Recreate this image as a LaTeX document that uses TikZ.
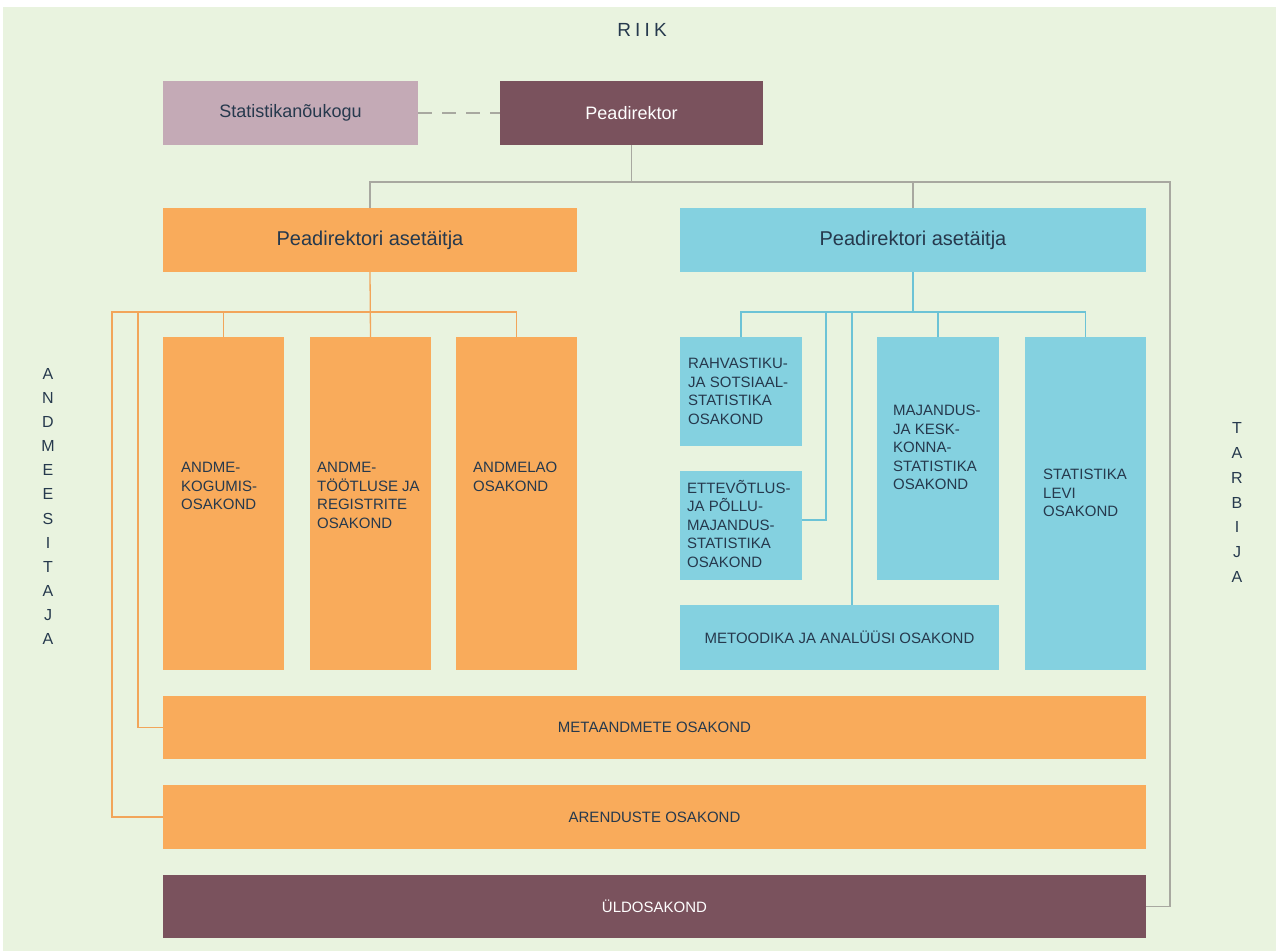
\documentclass[tikz,border=0pt]{standalone}
\usepackage{fontspec}
\setmainfont{Liberation Sans}
\newfontfamily\spacedfont[LetterSpace=22]{Liberation Sans}
\usetikzlibrary{calc}
\definecolor{bg}{HTML}{E9F3DF}
\definecolor{oran}{HTML}{F9AB5B}
\definecolor{blu}{HTML}{84D1E0}
\definecolor{maro}{HTML}{7A525D}
\definecolor{mauv}{HTML}{C4AAB6}
\definecolor{grl}{HTML}{A8A8A0}
\definecolor{orl}{HTML}{F2A55A}
\definecolor{bll}{HTML}{6CC3D6}
\definecolor{txt}{HTML}{26394D}
\tikzset{
  boxnode/.style={rectangle, inner sep=0pt, outer sep=0pt},
  obox/.style={boxnode, fill=oran},
  bbox/.style={boxnode, fill=blu},
  mbox/.style={boxnode, fill=maro},
  pbox/.style={boxnode, fill=mauv},
  boxtext/.style={inner sep=0pt, anchor=north west, align=left, text=txt,
    font=\fontsize{15}{18.5}\selectfont},
  ctext/.style={inner sep=0pt, text=txt, font=\fontsize{15}{18.5}\selectfont},
  headtext/.style={inner sep=0pt, font=\fontsize{18}{22}\selectfont},
  subheadtext/.style={inner sep=0pt, font=\fontsize{20}{24}\selectfont},
  sidetext/.style={inner sep=0pt, align=center, text=txt},
  gline/.style={draw=grl, line width=1.3pt},
  oline/.style={draw=orl, line width=1.3pt},
  bline/.style={draw=bll, line width=1.3pt},
}
\begin{document}
\begin{tikzpicture}[x=1pt, y=-1pt]
\useasboundingbox (0,0) rectangle (1276,951);
\fill[bg] (3,7) rectangle (1276,951);

% title
\node[inner sep=0pt, text=txt, font=\fontsize{19}{22}\spacedfont] (riik) at (642,30) {RIIK};

% top boxes
\node[pbox, minimum width=255, minimum height=64] (stat) at (290.5,113) {};
\node[mbox, minimum width=263, minimum height=64] (pea) at (631.5,113) {};
\node[obox, minimum width=414, minimum height=64] (aso) at (370,240) {};
\node[bbox, minimum width=466, minimum height=64] (asb) at (913,240) {};

% orange department boxes
\node[obox, minimum width=121, minimum height=333] (o1) at (223.5,503.5) {};
\node[obox, minimum width=121, minimum height=333] (o2) at (370.5,503.5) {};
\node[obox, minimum width=121, minimum height=333] (o3) at (516.5,503.5) {};

% blue department boxes
\node[bbox, minimum width=122, minimum height=109] (rah) at (741,391.5) {};
\node[bbox, minimum width=122, minimum height=109] (ett) at (741,525.5) {};
\node[bbox, minimum width=122, minimum height=243] (maj) at (938,458.5) {};
\node[bbox, minimum width=121, minimum height=333] (lev) at (1085.5,503.5) {};
\node[bbox, minimum width=319, minimum height=65] (met) at (839.5,637.5) {};

% wide boxes
\node[obox, minimum width=983, minimum height=63] (meta) at (654.5,727.5) {};
\node[obox, minimum width=983, minimum height=64] (are) at (654.5,817) {};
\node[mbox, minimum width=983, minimum height=63] (uld) at (654.5,906.5) {};

% texts
\node[headtext, text=txt] (tstat) at (stat) {Statistikanõukogu};
\node[headtext, text=white] (tpea) at (pea) {Peadirektor};
\node[subheadtext, text=txt] (taso) at (aso) {Peadirektori asetäitja};
\node[subheadtext, text=txt] (tasb) at (asb) {Peadirektori asetäitja};

\node[boxtext] (to1) at (181,462) {ANDME-\\KOGUMIS-\\OSAKOND};
\node[boxtext] (to2) at (317,462) {ANDME-\\TÖÖTLUSE JA\\REGISTRITE\\OSAKOND};
\node[boxtext] (to3) at (473,462) {ANDMELAO\\OSAKOND};
\node[boxtext] (trah) at (688,358) {RAHVASTIKU-\\JA SOTSIAAL-\\STATISTIKA\\OSAKOND};
\node[boxtext] (tett) at (687,480) {ETTEVÕTLUS-\\JA PÕLLU-\\MAJANDUS-\\STATISTIKA\\OSAKOND};
\node[boxtext] (tmaj) at (893,405) {MAJANDUS-\\JA KESK-\\KONNA-\\STATISTIKA\\OSAKOND};
\node[boxtext] (tlev) at (1043,469) {STATISTIKA\\LEVI\\OSAKOND};
\node[ctext] (tmet) at (met) {METOODIKA JA ANALÜÜSI OSAKOND};
\node[ctext] (tmeta) at (meta) {METAANDMETE OSAKOND};
\node[ctext] (tare) at (are) {ARENDUSTE OSAKOND};
\node[ctext, text=white] (tuld) at (uld) {ÜLDOSAKOND};

% side labels
\node[sidetext, font=\fontsize{16}{24.1}\selectfont] (left) at (48,506.5)
  {A\\N\\D\\M\\E\\E\\S\\I\\T\\A\\J\\A};
\node[sidetext, font=\fontsize{16}{24.8}\selectfont] (right) at (1237,502.5)
  {T\\A\\R\\B\\I\\J\\A};

% gray connectors
\coordinate (gR) at (1170,182);
\draw[gline, dash pattern=on 14pt off 10pt] (stat.east) -- (pea.west);
\draw[gline] (pea.south) -- (pea.south |- gR);
\draw[gline] (aso.north) |- (gR) |- (uld.east);
\draw[gline] (asb.north) -- (asb.north |- gR);

% orange connectors
\coordinate (oL1) at (112,312);
\coordinate (oL2) at (138,312);
\draw[oline] (aso.south) -- (o2.north);
\draw[oline] (are.west) -| (oL1) -| (o3.north);
\draw[oline] (meta.west) -| (oL2);
\draw[oline] (o1.north) -- (o1.north |- oL1);

% blue connectors
\coordinate (bR) at (1085.5,312);
\coordinate (bM) at (852,312);
\coordinate (bE) at (826,312);
\draw[bline] (rah.north) -- (rah.north |- bR) -- (bR) -- (lev.north);
\draw[bline] (asb.south) -- (asb.south |- bR);
\draw[bline] (maj.north) -- (maj.north |- bR);
\draw[bline] (bM) -- (bM |- met.north);
\draw[bline] (bE) |- ([yshift=5.5pt]ett.east);
\end{tikzpicture}
\end{document}
